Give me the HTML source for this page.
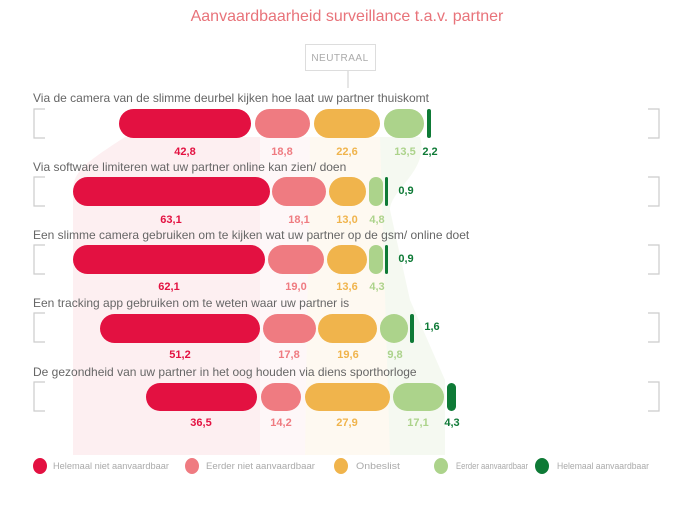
<!DOCTYPE html>
<html><head><meta charset="utf-8"><style>
body{margin:0;background:#fff;width:694px;height:502px;overflow:hidden;font-family:"Liberation Sans",sans-serif}
</style></head><body>
<svg width="694" height="502" xmlns="http://www.w3.org/2000/svg" font-family="Liberation Sans, sans-serif">
<text x="347" y="21" text-anchor="middle" font-size="16" fill="#e8737a">Aanvaardbaarheid surveillance t.a.v. partner</text>
<rect x="305.5" y="44.5" width="70" height="26" fill="#fff" stroke="#ddd"/>
<text x="340" y="61" text-anchor="middle" font-size="10" fill="#aaa" letter-spacing="0.5">NEUTRAAL</text>
<line x1="348" y1="71" x2="348" y2="88" stroke="#ccc"/>
<path d="M125,137 C90,160 73,170 73,190 L73,455 L260,455 L260,137 Z" fill="#e5173f" opacity="0.07"/>
<path d="M260,137 L260,455 L305,455 L310,137 Z" fill="#ef7b81" opacity="0.06"/>
<path d="M310,137 L305,455 L390,455 L380,137 Z" fill="#f0b44c" opacity="0.08"/>
<path d="M380,137 L420,137 C430,170 390,190 390,210 L410,300 L445,380 L445,455 L390,455 Z" fill="#a9d18e" opacity="0.12"/>
<g fill="none" stroke="#ccc" stroke-width="1.2">
<path d="M45,109 H34 V138 H45"/><path d="M45,177 H34 V206 H45"/><path d="M45,245 H34 V274 H45"/><path d="M45,313 H34 V342 H45"/><path d="M45,382 H34 V411 H45"/>
<path d="M648,109 H659 V138 H648"/><path d="M648,177 H659 V206 H648"/><path d="M648,245 H659 V274 H648"/><path d="M648,313 H659 V342 H648"/><path d="M648,382 H659 V411 H648"/>
</g>
<g font-size="12" fill="#666">
<text x="33" y="102">Via de camera van de slimme deurbel kijken hoe laat uw partner thuiskomt</text>
<text x="33" y="171">Via software limiteren wat uw partner online kan zien/ doen</text>
<text x="33" y="239">Een slimme camera gebruiken om te kijken wat uw partner op de gsm/ online doet</text>
<text x="33" y="307">Een tracking app gebruiken om te weten waar uw partner is</text>
<text x="33" y="376">De gezondheid van uw partner in het oog houden via diens sporthorloge</text>
</g>
<g>
<rect x="119" y="109" width="132" height="29" rx="14.5" fill="#e31141"/>
<rect x="255" y="109" width="55" height="29" rx="14.5" fill="#ef7b81"/>
<rect x="314" y="109" width="66" height="29" rx="14.5" fill="#f0b44c"/>
<rect x="384" y="109" width="40" height="29" rx="14.5" fill="#acd38b"/>
<rect x="427" y="109" width="4" height="29" rx="2" fill="#0e7a36"/>
<rect x="73" y="177" width="197" height="29" rx="14.5" fill="#e31141"/>
<rect x="272" y="177" width="54" height="29" rx="14.5" fill="#ef7b81"/>
<rect x="329" y="177" width="37" height="29" rx="14.5" fill="#f0b44c"/>
<rect x="369" y="177" width="14" height="29" rx="7" fill="#acd38b"/>
<rect x="385" y="177" width="3" height="29" rx="1.5" fill="#0e7a36"/>
<rect x="73" y="245" width="192" height="29" rx="14.5" fill="#e31141"/>
<rect x="268" y="245" width="56" height="29" rx="14.5" fill="#ef7b81"/>
<rect x="327" y="245" width="40" height="29" rx="14.5" fill="#f0b44c"/>
<rect x="369" y="245" width="14" height="29" rx="7" fill="#acd38b"/>
<rect x="385" y="245" width="3" height="29" rx="1.5" fill="#0e7a36"/>
<rect x="100" y="314" width="160" height="29" rx="14.5" fill="#e31141"/>
<rect x="263" y="314" width="53" height="29" rx="14.5" fill="#ef7b81"/>
<rect x="318" y="314" width="59" height="29" rx="14.5" fill="#f0b44c"/>
<rect x="380" y="314" width="28" height="29" rx="14" fill="#acd38b"/>
<rect x="410" y="314" width="4" height="29" rx="2" fill="#0e7a36"/>
<rect x="146" y="383" width="111" height="28" rx="14" fill="#e31141"/>
<rect x="261" y="383" width="40" height="28" rx="14" fill="#ef7b81"/>
<rect x="305" y="383" width="85" height="28" rx="14" fill="#f0b44c"/>
<rect x="393" y="383" width="51" height="28" rx="14" fill="#acd38b"/>
<rect x="447" y="383" width="9" height="28" rx="4.5" fill="#0e7a36"/>
</g>
<g font-size="11" font-weight="bold" text-anchor="middle">
<g fill="#e31141"><text x="185" y="155">42,8</text><text x="171" y="223">63,1</text><text x="169" y="290">62,1</text><text x="180" y="358">51,2</text><text x="201" y="426">36,5</text></g>
<g fill="#ef7b81"><text x="282" y="155">18,8</text><text x="299" y="223">18,1</text><text x="296" y="290">19,0</text><text x="289" y="358">17,8</text><text x="281" y="426">14,2</text></g>
<g fill="#f0b44c"><text x="347" y="155">22,6</text><text x="347" y="223">13,0</text><text x="347" y="290">13,6</text><text x="348" y="358">19,6</text><text x="347" y="426">27,9</text></g>
<g fill="#acd38b"><text x="405" y="155">13,5</text><text x="377" y="223">4,8</text><text x="377" y="290">4,3</text><text x="395" y="358">9,8</text><text x="418" y="426">17,1</text></g>
<g fill="#0e7a36"><text x="430" y="155">2,2</text><text x="406" y="194">0,9</text><text x="406" y="262">0,9</text><text x="432" y="330">1,6</text><text x="452" y="426">4,3</text></g>
</g>
<g font-size="9" fill="#aaa">
<ellipse cx="40" cy="466" rx="7" ry="8" fill="#e31141"/><text x="53" y="469" textLength="116" lengthAdjust="spacingAndGlyphs">Helemaal niet aanvaardbaar</text>
<ellipse cx="192" cy="466" rx="7" ry="8" fill="#ef7b81"/><text x="206" y="469" textLength="109" lengthAdjust="spacingAndGlyphs">Eerder niet aanvaardbaar</text>
<ellipse cx="341" cy="466" rx="7" ry="8" fill="#f0b44c"/><text x="356" y="469" textLength="44" lengthAdjust="spacingAndGlyphs">Onbeslist</text>
<ellipse cx="441" cy="466" rx="7" ry="8" fill="#acd38b"/><text x="456" y="469" textLength="72" lengthAdjust="spacingAndGlyphs">Eerder aanvaardbaar</text>
<ellipse cx="542" cy="466" rx="7" ry="8" fill="#0e7a36"/><text x="557" y="469" textLength="92" lengthAdjust="spacingAndGlyphs">Helemaal aanvaardbaar</text>
</g>
</svg>
</body></html>
